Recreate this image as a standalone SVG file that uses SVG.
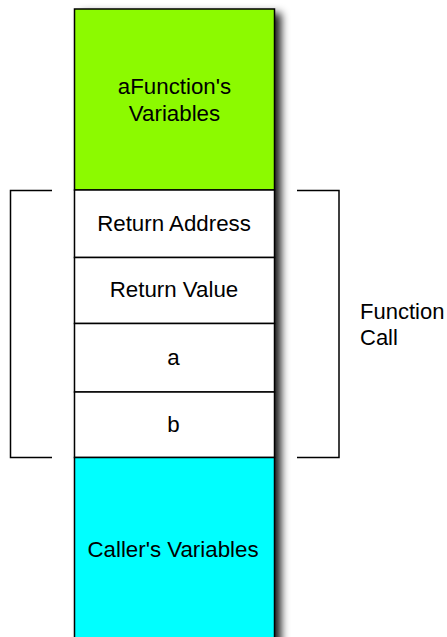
<svg xmlns="http://www.w3.org/2000/svg" width="447" height="637" viewBox="0 0 447 637">
  <style>
    .cell { stroke: #000; stroke-width: 1.5; }
    .lbl { font-family: "Liberation Sans", Arial, Helvetica, sans-serif; font-size: 22.3px; fill: #000; text-anchor: middle; }
    .side { font-family: "Liberation Sans", Arial, Helvetica, sans-serif; font-size: 22px; fill: #000; }
    .bracket { fill: none; stroke: #000; stroke-width: 1.5; }
  </style>
  <defs>
    <filter id="shadow" filterUnits="userSpaceOnUse" x="40" y="-20" width="290" height="700">
      <feGaussianBlur stdDeviation="4.5"/>
    </filter>
  </defs>
  <rect width="447" height="637" fill="#fff"/>

  <!-- stack column shadow -->
  <rect x="81" y="13" width="200" height="640" fill="#000" fill-opacity="0.9" filter="url(#shadow)"/>

  <g id="afunction-vars">
    <rect class="cell" x="74.5" y="9" width="200" height="181" fill="#8cfa00"/>
    <text class="lbl" x="174.5" y="94">aFunction's</text>
    <text class="lbl" x="174.5" y="120.5">Variables</text>
  </g>
  <g id="return-address">
    <rect class="cell" x="74.5" y="190" width="200" height="67.5" fill="#fff"/>
    <text class="lbl" x="174" y="230.5">Return Address</text>
  </g>
  <g id="return-value">
    <rect class="cell" x="74.5" y="257.5" width="200" height="66" fill="#fff"/>
    <text class="lbl" x="174" y="297">Return Value</text>
  </g>
  <g id="param-a">
    <rect class="cell" x="74.5" y="323.5" width="200" height="68.5" fill="#fff"/>
    <text class="lbl" x="173.5" y="364.5">a</text>
  </g>
  <g id="param-b">
    <rect class="cell" x="74.5" y="392" width="200" height="65.5" fill="#fff"/>
    <text class="lbl" x="173.5" y="431.5">b</text>
  </g>
  <g id="caller-vars">
    <rect class="cell" x="74.5" y="457.5" width="200" height="200" fill="#00ffff"/>
    <text class="lbl" x="173" y="556.5">Caller's Variables</text>
  </g>

  <g id="brackets">
    <polyline class="bracket" points="52,190.5 10.5,190.5 10.5,457.5 52,457.5"/>
    <polyline class="bracket" points="297,190.5 339,190.5 339,457.5 297,457.5"/>
  </g>

  <g id="function-call-label">
    <text class="side" x="360" y="319">Function</text>
    <text class="side" x="360" y="345">Call</text>
  </g>
</svg>
